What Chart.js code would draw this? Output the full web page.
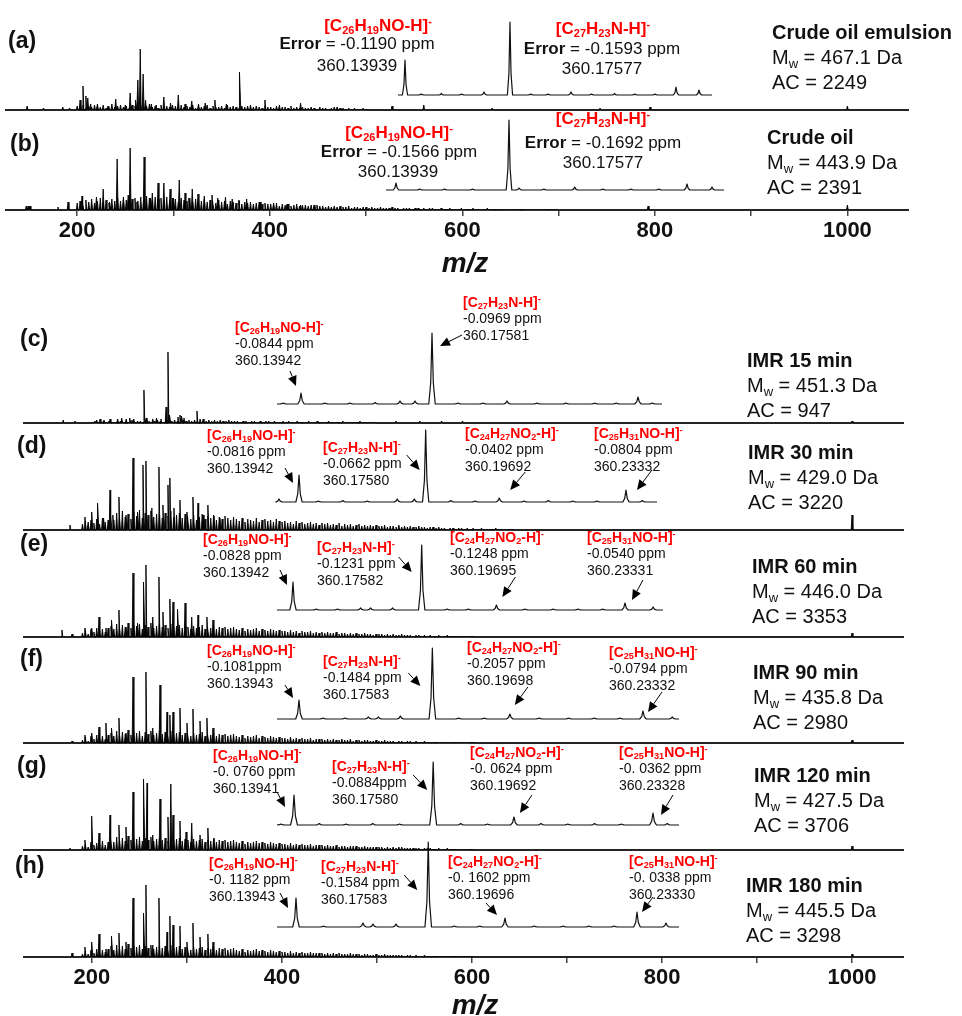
<!DOCTYPE html>
<html>
<head>
<meta charset="utf-8">
<script src="https://cdn.jsdelivr.net/npm/chart.js@4.4.1/dist/chart.umd.min.js"></script>
<style>
  body { margin: 0; background: #fff; }
  #fig { position: relative; width: 962px; height: 1016px; overflow: hidden;
         font-family: "Liberation Sans", Arial, sans-serif; color: #111; }
  #fig canvas { position: absolute; }
  .t { position: absolute; white-space: nowrap; line-height: 1; transform: translateY(-50%); }
  .c { transform: translate(-50%, -50%); }
  .red { color: #ff0000; font-weight: bold; }
  .t sub, .t sup, .blk sub, .blk sup { font-size: 0.65em; vertical-align: baseline; position: relative; line-height: 0; }
  .t sub, .blk sub { top: 0.3em; }
  .t sup, .blk sup { top: -0.55em; }
  .let { font-size: 23px; font-weight: bold; }
  .sam { font-size: 20px; }
  .top { font-size: 17px; }
  .blk { position: absolute; white-space: nowrap; font-size: 14px; line-height: 16.8px; }
  .mz { font-size: 28px; font-weight: bold; font-style: italic; }
</style>
</head>
<body>
<div id="fig"></div>
<script>
const tickValues = [200, 300, 400, 500, 600, 700, 800, 900, 1000];

// main spectra, resolved peaks: [m/z, intensity]
const aMajor = [[148,4],[165,2],[185,3],[192,2],[203,10],[206,24],[209,14],[211,12],[214,6],[221,6],[232,4],[240,11],[250,5],[255,17],[261,10],[263,30],[265.5,61],[268.5,36],[271,10],[277,6],[282,5],[290,13],[297,7],[305,15],[312,6],[319,9],[326,6],[333,7],[343,10],[355,6],[369,38],[380,5],[395,10],[410,5],[432,7],[470,3],[527,4],[560,5],[631,2],[743,2],[795,3],[1000,4]];
const bMajor = [[147,4],[149,4],[151,4],[180,3],[190.5,8],[205,14],[220,13],[227,21],[234,8],[241.5,51],[248,10],[253,15],[255,62],[262,8],[269.5,53],[276,12],[278,17],[284,27],[290,27],[296.5,21],[300,12],[306,30],[312,17],[316,12],[319.5,21],[325.5,16],[332,14],[340,15],[346,12],[354,13],[361,11],[368,10],[376,11],[390,8],[404,7],[418,6],[432,5],[446,5],[793,4],[1000,5]];
const cMajor = [[169.5,3],[182,2],[205,3],[208.5,4],[212.6,3],[219,4],[227,4],[231.6,5],[236,4],[240,5],[244,4],[254.7,33],[257,5],[264,4],[268,5],[272.6,4],[278,16],[280,71],[282,8],[290.5,6],[292.6,8],[294.7,7],[296.8,5],[310.5,12],[313.7,4],[520,2],[545,2],[568,2],[590,2],[1000,2]];
const dMajor = [[176.8,5],[192.6,13],[196,8],[200,18],[206.3,27],[212.6,12],[219,40],[222,15],[228.4,33],[235.8,15],[243.2,72],[248.4,18],[253.7,65],[256.8,69],[263,22],[270.5,63],[274.7,25],[280,45],[282,52],[286.3,22],[292.6,30],[300,18],[306.3,33],[311.6,27],[317,15],[322,25],[328.4,14],[334.7,12],[1000,15]];
const eMajor = [[168.4,7],[179,3],[192.6,9],[200,9],[207.4,20],[214.7,9],[221,17],[228.4,27],[235.8,10],[243.2,64],[248.4,14],[254.7,55],[256.8,72],[264,20],[270.5,60],[274.7,25],[282,38],[285.3,35],[290.5,28],[298,34],[305,20],[311.6,22],[321,20],[327.4,17],[1000,4]];
const fMajor = [[179,2],[192.6,8],[200,10],[207.4,16],[214.7,20],[221,15],[228.4,25],[235.8,10],[243.2,66],[256.8,71],[264,15],[271.6,58],[279,31],[282,28],[285.3,31],[292.6,35],[300,20],[306.3,34],[313.7,22],[321,25],[327.4,15],[1000,3]];
const gMajor = [[176.8,2],[192.6,10],[200,34],[207.4,17],[219,35],[228.4,25],[235.8,23],[243.2,58],[254.7,71],[258,67],[264,15],[271.6,51],[280,33],[283,66],[285.3,35],[292.6,29],[299,18],[305,27],[313.7,15],[322,22],[328.4,12],[1000,4]];
const hMajor = [[179,4],[192.6,10],[200,15],[207.4,23],[214.7,8],[221,21],[228.4,24],[235.8,15],[243.2,59],[254.7,44],[256.8,72],[264,12],[270.5,59],[279,25],[282,41],[285.3,32],[292.6,31],[300,15],[306.3,34],[313.7,20],[322,23],[327.4,15],[1000,3]];

// unresolved "grass": intensities on a 3 Da grid from the start mass
const grassStep = 3;
const aGrassStart = 200;
const aGrass = [4,3,5,2,4,3,5,4,3,5,2,4,6,3,4,5,3,4,2,5,4,3,5,3,4,6,3,4,2,5,3,4,3,5,
  4,2,5,3,4,3,5,2,4,3,4,5,2,4,3,3,4,2,5,3,4,3,2,4,3,4,2,3,4,3,2,4,3,
  3,2,4,2,3,3,2,4,2,3,2,3,2,2,3,2,1,3,2,2,1,2,3,1,2,2,1,2,1,2,1,1,2,1];
const bGrassStart = 200;
const bGrass = [7,9,6,10,8,11,7,9,12,8,10,7,11,9,
  12,9,13,10,14,11,12,9,13,10,14,12,9,13,11,12,10,13,9,12,
  11,8,12,10,9,12,8,11,10,9,11,8,10,
  9,7,10,8,9,6,9,8,7,9,6,8,7,8,6,7,8,6,7,6,
  6,5,7,4,6,5,6,4,5,6,4,5,5,4,5,3,5,4,4,3,
  4,3,4,3,4,3,3,4,2,3,3,2,3,3,2,3,2,2,3,2,
  2,2,3,2,2,1,2,2,2,1,2,2,1,2,1,2,2,1,1,2,1,1,2,1,1,1,2,
  1,1,1,2,1,1,1,1,2,1,1,1,1,1,1,1,1,1,1,1,1,1,1,1,1,1,1,1,1,1,1,1,1];
const cGrassStart = 200;
const cGrass = [1,2,1,1,2,1,2,1,1,2,2,1,2,1,3,1,2,2,1,3,2,1,2,3,2,1,3,2,2,3,2,1,3,2,
  3,2,3,2,3,4,2,3,2,3,2,3,2,2,3,2,2,
  2,1,2,2,1,2,2,1,2,1,2,2,1,2,1,1,2,
  1,2,1,1,2,1,1,1,2,1,1,2,1,1,1,2,1,1,1,1,2,1,1,1,1,1,2,1,1,1,1,1];
const dGrassStart = 190;
const dGrass = [6,9,5,10,7,11,6,12,8,10,
  15,10,17,12,19,13,16,11,18,14,20,12,17,15,19,13,16,18,12,17,14,19,13,15,17,12,16,
  14,11,15,10,13,16,11,14,12,15,10,13,11,14,12,10,13,
  11,9,12,8,11,10,9,12,8,10,11,9,10,8,11,9,8,
  9,7,8,6,9,7,8,6,7,8,6,7,5,7,6,7,5,
  6,5,7,4,6,5,6,4,5,6,4,5,4,5,4,5,4,
  4,5,3,4,4,3,5,3,4,3,4,3,3,4,3,3,2,3,3,2,
  3,2,2,1,2,2,1,2,2,1,2,1,2,1,1,2,1,1,1,1,2,1,1,1,1,1,1];
const eGrassStart = 190;
const eGrass = [4,7,3,8,5,9,6,8,5,9,
  11,8,13,9,12,10,14,9,12,11,13,8,12,10,14,9,11,13,10,12,9,13,10,11,12,9,11,
  10,8,11,9,10,12,8,10,9,11,8,10,9,10,8,9,10,
  8,7,9,6,8,7,8,9,6,8,7,6,8,7,6,7,6,
  6,5,7,5,6,4,6,5,5,6,4,5,4,5,4,5,4,
  4,5,3,4,4,3,4,3,4,3,3,4,3,3,2,3,3,
  3,2,3,2,3,2,2,3,2,2,2,1,2,2,1,2,1,2,1,1,
  2,1,1,2,1,1,1,1,1,1,1,1,1];
const fGrassStart = 190;
const fGrass = [3,6,2,7,4,8,5,7,4,8,
  10,7,12,8,11,9,13,8,11,10,12,7,11,9,12,8,10,12,9,11,8,12,9,10,11,8,10,
  9,7,10,8,9,11,7,9,8,10,7,9,8,9,7,8,9,
  7,6,8,5,7,6,7,8,5,7,6,5,7,6,5,6,5,
  5,4,6,4,5,4,5,4,4,5,3,4,4,4,3,4,3,
  4,3,3,4,3,3,4,2,3,3,2,3,3,2,2,3,2,
  2,3,2,2,2,1,2,2,1,2,2,1,2,1,1,2,1,1,1,1,
  1,1,1,1,1,1,1,1,1,1,1,1,1];
const gGrassStart = 190;
const gGrass = [4,6,3,8,5,7,6,9,5,8,
  12,8,13,10,12,9,14,10,12,11,13,9,12,10,13,9,11,12,10,12,9,12,10,11,12,9,11,
  10,8,11,9,10,11,8,10,9,11,8,10,9,10,8,9,10,
  8,7,9,6,8,7,8,9,7,8,7,6,8,7,6,7,6,
  6,5,7,5,6,5,6,5,5,6,4,5,5,5,4,5,4,
  4,5,3,4,4,3,4,4,4,3,3,4,3,3,3,3,3,
  3,2,3,2,3,2,3,3,2,2,2,2,2,2,1,2,2,2,1,1,
  2,1,1,2,1,1,1,1,1,1,1,1,1];
const hGrassStart = 190;
const hGrass = [3,6,3,7,4,8,5,7,5,8,
  11,7,12,9,11,8,13,9,11,10,12,8,11,9,12,8,10,11,9,11,8,12,9,10,11,8,10,
  9,7,10,8,9,10,7,9,8,10,7,9,8,9,7,8,9,
  7,6,8,5,7,6,7,8,6,7,6,5,7,6,5,6,5,
  5,4,6,4,5,4,5,4,4,5,4,4,4,4,3,4,3,
  4,3,4,3,3,3,4,3,3,3,2,3,3,2,2,3,2,
  2,3,2,2,2,2,2,2,1,2,2,1,2,1,1,2,1,1,1,1,
  1,1,1,1,1,1,1,1,1,1,1,1,1];

// insets around m/z 360: [exact m/z, intensity]
const aInset = [[360.13939,35],[360.1450,1],[360.1520,1.5],[360.1590,1],[360.16676,3],[360.17577,73],[360.1830,1],[360.1890,1],[360.19691,3],[360.2040,1],[360.2120,1.5],[360.2190,1],[360.2260,1],[360.23329,8],[360.24126,5]];
const bInset = [[360.13939,7],[360.1470,1],[360.1550,1],[360.1640,1],[360.17577,70],[360.1790,2],[360.1870,1],[360.19692,3],[360.2060,1],[360.2150,1],[360.2240,1],[360.23308,6],[360.24113,3]];
const cInset = [[360.1345,1],[360.13942,11],[360.1460,1],[360.1530,1],[360.1600,1.5],[360.16692,3],[360.17109,3],[360.17581,71],[360.1830,1],[360.1900,1],[360.19664,3],[360.2050,1],[360.2130,1],[360.2210,1],[360.2270,1],[360.23303,7],[360.2370,1]];
const dInset = [[360.13367,3],[360.13942,27],[360.1450,1],[360.1520,1.5],[360.1590,1],[360.16764,3],[360.17253,3],[360.17580,72],[360.1830,1.5],[360.1900,1],[360.19692,4],[360.2040,1],[360.2110,1.5],[360.2180,1],[360.2250,1],[360.23332,12],[360.2380,1.5]];
const eInset = [[360.13942,28],[360.1460,1],[360.1520,1],[360.15854,2],[360.16137,2],[360.16759,2],[360.17582,65],[360.1830,1],[360.1890,1],[360.19695,5],[360.2050,1],[360.2130,1],[360.2200,1],[360.2270,1],[360.23331,7],[360.24126,3]];
const fInset = [[360.13943,19],[360.1460,1],[360.1520,1],[360.15836,2],[360.16109,2],[360.16710,3],[360.17583,71],[360.1830,1],[360.1900,1],[360.19698,5],[360.2050,1],[360.2130,1],[360.2200,1],[360.2270,1],[360.23332,8],[360.24132,2]];
const gInset = [[360.1360,1],[360.13941,30],[360.1460,1.5],[360.1530,1],[360.1600,1.5],[360.1670,1],[360.17580,63],[360.1830,1.5],[360.1900,1],[360.19692,8],[360.2040,1.5],[360.2110,1],[360.2180,1.5],[360.2250,1],[360.23328,12],[360.2370,1.5]];
const hInset = [[360.13943,29],[360.1470,1],[360.15787,4],[360.16062,3],[360.16695,3],[360.17583,85],[360.1830,1],[360.1900,1],[360.19696,9],[360.2050,1],[360.2130,1],[360.2200,1],[360.2270,1],[360.23330,15],[360.24128,4]];

// formulas and labels
const F26 = '[C<sub>26</sub>H<sub>19</sub>NO-H]<sup>-</sup>';
const F27 = '[C<sub>27</sub>H<sub>23</sub>N-H]<sup>-</sup>';
const F24 = '[C<sub>24</sub>H<sub>27</sub>NO<sub>2</sub>-H]<sup>-</sup>';
const F25 = '[C<sub>25</sub>H<sub>31</sub>NO-H]<sup>-</sup>';
const samples = ['Crude oil emulsion', 'Crude oil', 'IMR 15 min', 'IMR 30 min', 'IMR 60 min', 'IMR 90 min', 'IMR 120 min', 'IMR 180 min'];
const mwValues = ['467.1', '443.9', '451.3', '429.0', '446.0', '435.8', '427.5', '445.5'];
const acValues = ['2249', '2391', '947', '3220', '3353', '2980', '3706', '3298'];

const fig = document.getElementById('fig');
const FONT = '"Liberation Sans", Arial, sans-serif';

function addCanvas(left, top, w, h) {
  const cv = document.createElement('canvas');
  cv.width = w; cv.height = h;
  cv.style.left = left + 'px'; cv.style.top = top + 'px';
  cv.style.width = w + 'px'; cv.style.height = h + 'px';
  fig.appendChild(cv);
  return cv;
}

function sticks(major, grass, start, lo, hi) {
  const peaks = major.concat(grass.map((v, i) => [start + i * grassStep, v]));
  peaks.sort((p, q) => p[0] - q[0]);
  const pts = [{x: lo, y: 0}];
  peaks.forEach(([m, h]) => pts.push({x: m - 0.9, y: 0}, {x: m, y: h}, {x: m + 0.9, y: 0}));
  pts.push({x: hi, y: 0});
  return pts;
}

function mainChart(major, grass, start, left, width, base, lo, hi, labeled) {
  const axisH = labeled ? 34 : 0;
  const cv = addCanvas(left, base - 100, width, 100 + axisH + 3);
  new Chart(cv, {
    type: 'line',
    data: { datasets: [{ data: sticks(major, grass, start, lo, hi), borderColor: '#000', borderWidth: 0.9,
      backgroundColor: '#000', fill: 'origin', pointRadius: 0, borderJoinStyle: 'bevel', clip: false }] },
    options: {
      responsive: false, animation: false, events: [],
      layout: { padding: { left: 0, right: 0, top: 0, bottom: 3 } },
      plugins: { legend: { display: false }, tooltip: { enabled: false } },
      scales: {
        x: {
          type: 'linear', min: lo, max: hi,
          afterBuildTicks: s => { s.ticks = tickValues.map(v => ({ value: v })); },
          afterFit: s => { s.height = axisH; },
          grid: { display: labeled, drawOnChartArea: false, tickLength: 6, color: '#444', lineWidth: 1.5 },
          border: { display: true, color: '#444', width: 2 },
          ticks: { display: labeled, autoSkip: false, maxRotation: 0, padding: 2, color: '#111',
            font: { family: FONT, size: 22, weight: 'bold' },
            callback: v => (v % 200 === 0 ? String(v) : '') }
        },
        y: { display: false, min: 0, max: 100 }
      }
    }
  });
}

const arrowPlugin = {
  id: 'arrows',
  afterDatasetsDraw(chart, args, opts) {
    const ctx = chart.ctx, xs = chart.scales.x, ys = chart.scales.y;
    (opts.list || []).forEach(([m, tx, ty, sx, sy]) => {
      const pk = opts.peaks.find(p => p[0] === m);
      const px = xs.getPixelForValue(m), py = ys.getPixelForValue(pk[1]);
      const x1 = px + tx, y1 = py + ty, x0 = px + sx, y0 = py + sy;
      const a = Math.atan2(y1 - y0, x1 - x0), L = 10, W = 4.5;
      const bx = x1 - L * Math.cos(a), by = y1 - L * Math.sin(a);
      ctx.save();
      ctx.strokeStyle = '#000'; ctx.fillStyle = '#000'; ctx.lineWidth = 1;
      ctx.beginPath(); ctx.moveTo(x0, y0); ctx.lineTo(bx, by); ctx.stroke();
      ctx.beginPath(); ctx.moveTo(x1, y1);
      ctx.lineTo(bx + W * Math.sin(a), by - W * Math.cos(a));
      ctx.lineTo(bx - W * Math.sin(a), by + W * Math.cos(a));
      ctx.closePath(); ctx.fill();
      ctx.restore();
    });
  }
};

function insetChart(peaks, x0, x1, base, lo, hi, arrows) {
  const cv = addCanvas(x0 - 25, base - 104, x1 - x0 + 50, 107);
  const w = 0.0009;
  const pts = [{x: lo, y: 0}];
  peaks.forEach(([m, h]) => pts.push({x: m - w, y: 0}, {x: m - w * 0.4, y: h * 0.3}, {x: m, y: h},
    {x: m + w * 0.4, y: h * 0.3}, {x: m + w, y: 0}));
  pts.push({x: hi, y: 0});
  new Chart(cv, {
    type: 'line',
    data: { datasets: [{ data: pts, borderColor: '#111', borderWidth: 1.2, pointRadius: 0,
      borderJoinStyle: 'round', clip: false }] },
    options: {
      responsive: false, animation: false, events: [],
      layout: { padding: { left: 25, right: 25, top: 4, bottom: 3 } },
      plugins: { legend: { display: false }, tooltip: { enabled: false },
        arrows: { list: arrows, peaks: peaks } },
      scales: { x: { type: 'linear', display: false, min: lo, max: hi },
                y: { display: false, min: 0, max: 100 } }
    },
    plugins: [arrowPlugin]
  });
}

function txt(html, x, y, cls, center) {
  const d = document.createElement('div');
  d.className = 't ' + cls + (center ? ' c' : '');
  d.innerHTML = html;
  d.style.left = x + 'px'; d.style.top = y + 'px';
  fig.appendChild(d);
}

function block(formula, err, mass, x, y) {
  const d = document.createElement('div');
  d.className = 'blk';
  d.innerHTML = '<div class="red">' + formula + '</div><div>' + err + '</div><div>' + mass + '</div>';
  d.style.left = x + 'px'; d.style.top = (y - 8.4) + 'px';
  fig.appendChild(d);
}

// top group: crude oil emulsion and crude oil
const topLo = 125, topHi = 1064, botLo = 127.4, botHi = 1054.7;
mainChart(aMajor, aGrass, aGrassStart, 5, 904, 110, topLo, topHi, false);
mainChart(bMajor, bGrass, bGrassStart, 5, 904, 210, topLo, topHi, true);
insetChart(aInset, 398, 712, 95, 360.13697, 360.24577, []);
insetChart(bInset, 386, 724, 190, 360.13617, 360.24499, []);

// bottom group: IMR reaction times
mainChart(cMajor, cGrass, cGrassStart, 23, 881, 423, botLo, botHi, false);
mainChart(dMajor, dGrass, dGrassStart, 23, 881, 530, botLo, botHi, false);
mainChart(eMajor, eGrass, eGrassStart, 23, 881, 637, botLo, botHi, false);
mainChart(fMajor, fGrass, fGrassStart, 23, 881, 743, botLo, botHi, false);
mainChart(gMajor, gGrass, gGrassStart, 23, 881, 850, botLo, botHi, false);
mainChart(hMajor, hGrass, hGrassStart, 23, 881, 957, botLo, botHi, true);

insetChart(cInset, 277, 662, 404, 360.13275, 360.23970,
  [[360.13942,-5,-7,-11,-22],[360.17581,8,13,30,2]]);
insetChart(dInset, 277, 657, 502, 360.13310, 360.24223,
  [[360.13942,-6,8,-14,-7],[360.17580,-6,40,-19,25],[360.19692,11,-8,26,-26],[360.23332,11,0,26,-20]]);
insetChart(eInset, 277, 663, 610, 360.13490, 360.24406,
  [[360.13942,-6,3,-13,-12],[360.17582,-10,27,-23,12],[360.19695,6,-8,19,-28],[360.23331,7,-3,18,-23]]);
insetChart(fInset, 277, 679, 719, 360.13343, 360.24315,
  [[360.13943,-6,-2,-14,-15],[360.17583,-12,38,-24,25],[360.19698,5,-9,18,-27],[360.23332,5,1,19,-19]]);
insetChart(gInset, 277, 679, 825, 360.13496, 360.24008,
  [[360.13941,-9,12,-17,-3],[360.17580,-6,28,-20,13],[360.19692,6,-4,18,-22],[360.23328,8,2,20,-18]]);
insetChart(hInset, 277, 679, 927, 360.13420, 360.24486,
  [[360.13943,-8,10,-16,-5],[360.17583,-11,48,-24,33],[360.19696,-8,-3,-19,-15],[360.23330,5,0,16,-15]]);

// panel letters
[['(a)',8,40],['(b)',10,143],['(c)',20,338],['(d)',17,445],['(e)',20,543],['(f)',20,658],['(g)',17,765],['(h)',15,865]]
  .forEach(([s, x, y]) => txt(s, x, y, 'let'));

// sample captions
[[772,32],[767,137],[747,360],[748,452],[752,566],[753,672],[754,775],[746,885]].forEach(([x, y], i) => {
  txt('<b>' + samples[i] + '</b>', x, y, 'sam');
  txt('M<sub>w</sub> = ' + mwValues[i] + ' Da', x, y + 25, 'sam');
  txt('AC = ' + acValues[i], x, y + 50, 'sam');
});

// top inset labels
txt('<span class="red">' + F26 + '</span>', 378, 25, 'top', true);
txt('<b>Error</b> = -0.1190 ppm', 357, 43, 'top', true);
txt('360.13939', 357, 65, 'top', true);
txt('<span class="red">' + F27 + '</span>', 603, 28, 'top', true);
txt('<b>Error</b> = -0.1593 ppm', 602, 48, 'top', true);
txt('360.17577', 602, 68, 'top', true);
txt('<span class="red">' + F26 + '</span>', 399, 132, 'top', true);
txt('<b>Error</b> = -0.1566 ppm', 399, 151, 'top', true);
txt('360.13939', 398, 171, 'top', true);
txt('<span class="red">' + F27 + '</span>', 603, 118, 'top', true);
txt('<b>Error</b> = -0.1692 ppm', 603, 142, 'top', true);
txt('360.17577', 603, 162, 'top', true);

// bottom inset labels
block(F26, '-0.0844 ppm', '360.13942', 235, 327);
block(F27, '-0.0969 ppm', '360.17581', 463, 302);
block(F26, '-0.0816 ppm', '360.13942', 207, 435);
block(F27, '-0.0662 ppm', '360.17580', 323, 447);
block(F24, '-0.0402 ppm', '360.19692', 465, 433);
block(F25, '-0.0804 ppm', '360.23332', 594, 433);
block(F26, '-0.0828 ppm', '360.13942', 203, 539);
block(F27, '-0.1231 ppm', '360.17582', 317, 547);
block(F24, '-0.1248 ppm', '360.19695', 450, 537);
block(F25, '-0.0540 ppm', '360.23331', 587, 537);
block(F26, '-0.1081ppm', '360.13943', 207, 650);
block(F27, '-0.1484 ppm', '360.17583', 323, 661);
block(F24, '-0.2057 ppm', '360.19698', 467, 647);
block(F25, '-0.0794 ppm', '360.23332', 609, 652);
block(F26, '-0. 0760 ppm', '360.13941', 213, 755);
block(F27, '-0.0884ppm', '360.17580', 332, 766);
block(F24, '-0. 0624 ppm', '360.19692', 470, 752);
block(F25, '-0. 0362 ppm', '360.23328', 619, 752);
block(F26, '-0. 1182 ppm', '360.13943', 209, 863);
block(F27, '-0.1584 ppm', '360.17583', 321, 866);
block(F24, '-0. 1602 ppm', '360.19696', 448, 861);
block(F25, '-0. 0338 ppm', '360.23330', 629, 861);

// axis titles
txt('m/z', 465, 263, 'mz', true);
txt('m/z', 475, 1005, 'mz', true);
</script>
</body>
</html>
